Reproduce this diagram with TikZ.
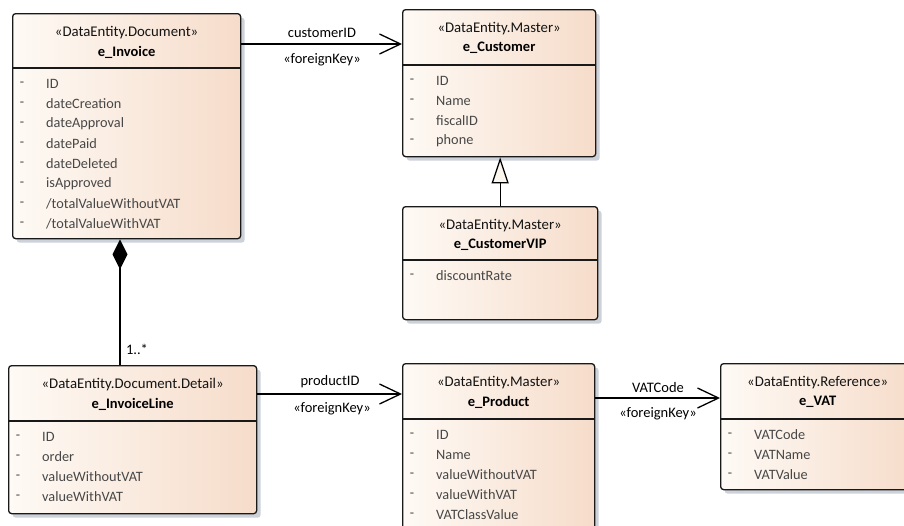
\documentclass[tikz,border=0pt]{standalone}
\usepackage{fontspec}
\setmainfont{Carlito}
\usetikzlibrary{arrows.meta,shadows}
\definecolor{clsL}{HTML}{FEFAF5}
\definecolor{clsR}{HTML}{F6DCCA}
\definecolor{shad}{HTML}{CDD1D8}
\definecolor{attrc}{HTML}{474747}
\definecolor{stc}{HTML}{141414}
\definecolor{genfill}{HTML}{FBF6EE}
\tikzset{
  cls/.style={draw=black!90, line width=1.3pt, rounded corners=3pt,
    left color=clsL, right color=clsR, inner sep=0pt,
    drop shadow={shadow xshift=4pt, shadow yshift=-4pt, fill=shad, opacity=1}},
  sepline/.style={draw=black!90, line width=1.1pt},
  stereo/.style={font=\fontsize{14.8}{16}\selectfont, text=stc, inner sep=0pt},
  cname/.style={font=\fontsize{14.5}{16}\selectfont\bfseries, text=black, inner sep=0pt},
  attr/.style={font=\fontsize{14.3}{16}\selectfont, text=attrc, inner sep=0pt, anchor=west},
  attrdash/.style={font=\fontsize{14}{16}\selectfont, text=attrc, inner sep=0pt},
  lbl/.style={font=\fontsize{14.5}{16}\selectfont, text=black, inner sep=0pt},
  assoc/.style={draw=black, line width=1.3pt,
    -{Straight Barb[length=21pt, width=20pt, line width=1.3pt]}},
  gen/.style={draw=black, line width=1.3pt,
    -{Triangle[open, fill=genfill, length=26pt, width=17pt, line width=1.3pt]}},
  comp/.style={draw=black, line width=1.3pt,
    {Diamond[length=30pt, width=15pt]}-}
}
\newcommand{\umlclass}[9]{%
  \node[cls, minimum width=#4pt, minimum height=#5pt, anchor=north west] (#1) at (#2,#3) {};
  \draw[sepline] ([yshift=-#6pt]#1.north west) -- ([yshift=-#6pt]#1.north east);
  \node[stereo] (#1-st) at ([yshift=-20pt]#1.north) {#7};
  \node[cname] (#1-nm) at ([yshift=-39pt]#1.north) {#8};
  \foreach \a [count=\i] in {#9} {
    \node[attrdash] (#1-d\i) at ([xshift=10pt, yshift={-#6pt-16pt-(\i-1)*20pt}]#1.north west) {-};
    \node[attr] (#1-a\i) at ([xshift=34pt, yshift={-#6pt-16pt-(\i-1)*20pt}]#1.north west) {\a};
  }%
}
\begin{document}
\begin{tikzpicture}[x=1pt, y=-1pt]
\useasboundingbox (0,0) rectangle (904,525);
\path[clip] (0,0) rectangle (904,525);

\umlclass{inv}{12}{13}{228}{225}{55}{«DataEntity.Document»}{e\_Invoice}{ID,dateCreation,dateApproval,datePaid,dateDeleted,isApproved,/totalValueWithoutVAT,/totalValueWithVAT}
\umlclass{cust}{402}{9}{193}{147}{56}{«DataEntity.Master»}{e\_Customer}{ID,Name,fiscalID,phone}
\umlclass{vip}{402}{206}{195}{113}{54}{«DataEntity.Master»}{e\_CustomerVIP}{discountRate}
\umlclass{line}{8}{365}{248}{148}{56}{«DataEntity.Document.Detail»}{e\_InvoiceLine}{ID,order,valueWithoutVAT,valueWithVAT}
\umlclass{prod}{402}{363}{192}{200}{56}{«DataEntity.Master»}{e\_Product}{ID,Name,valueWithoutVAT,valueWithVAT,VATClassValue}
\umlclass{vat}{720}{363}{194}{126}{56}{«DataEntity.Reference»}{e\_VAT}{VATCode,VATName,VATValue}

% associations
\draw[assoc] ([yshift=-31pt]inv.north east) -- ([yshift=-35pt]cust.north west);
\node[lbl] (l1) at (322,33) {customerID};
\node[lbl] (l2) at (322,60) {«foreignKey»};

\draw[assoc] ([yshift=-29pt]line.north east) -- ([yshift=-31pt]prod.north west);
\node[lbl] (l3) at (330,382) {productID};
\node[lbl] (l4) at (332,409) {«foreignKey»};

\draw[assoc] ([yshift=-35pt]prod.north east) -- ([yshift=-35pt]vat.north west);
\node[lbl] (l5) at (658,388) {VATCode};
\node[lbl] (l6) at (658,414) {«foreignKey»};

% generalization
\draw[gen] (vip.north) -- (vip.north |- cust.south);

% composition
\coordinate (cx) at (120,0);
\draw[comp] (inv.south -| cx) -- (line.north -| cx);
\node[lbl] (l7) at (137,349) {1..*};
\end{tikzpicture}
\end{document}
